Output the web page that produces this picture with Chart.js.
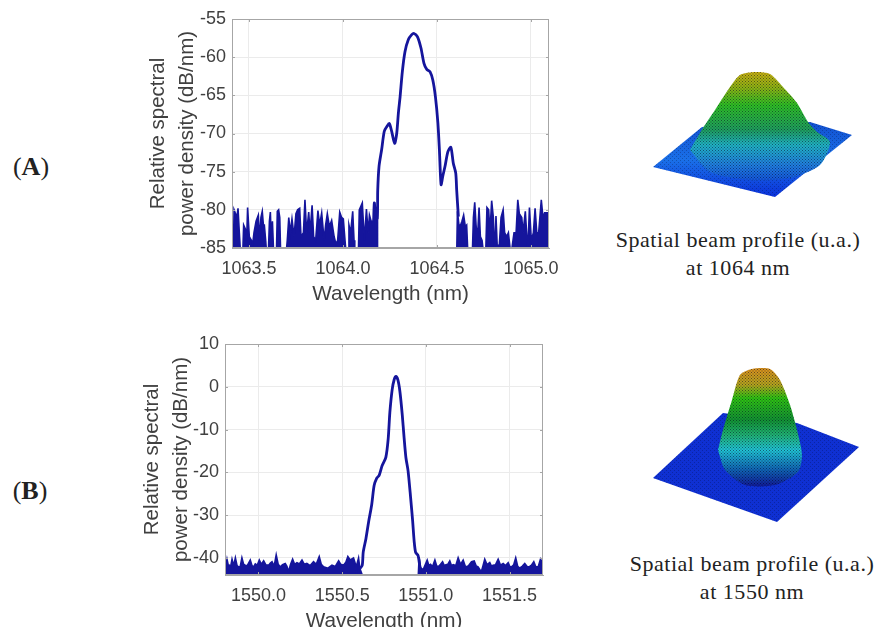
<!DOCTYPE html>
<html><head><meta charset="utf-8">
<script src="https://cdn.jsdelivr.net/npm/chart.js@4"></script>
<style>
html,body{margin:0;padding:0;background:#fff;width:876px;height:627px;overflow:hidden}
canvas{position:absolute;display:block}
.t{position:absolute;font-family:"Liberation Serif",serif;color:#222;white-space:nowrap;transform:translate(-50%,-50%)}
.cap{font-size:22px;letter-spacing:.53px}
.tag{font-size:26px}
</style></head><body>
<canvas id="cA" width="430" height="310" style="left:130px;top:0;width:430px;height:310px;filter:blur(.4px)"></canvas>
<canvas id="cB" width="440" height="310" style="left:120px;top:325px;width:440px;height:310px;filter:blur(.4px)"></canvas>
<canvas id="sA" width="230" height="165" style="left:640px;top:60px;width:230px;height:165px;filter:blur(.5px)"></canvas>
<canvas id="sB" width="230" height="165" style="left:640px;top:360px;width:230px;height:165px;filter:blur(.5px)"></canvas>
<div class="t tag" style="left:31px;top:167px">(<b>A</b>)</div>
<div class="t tag" style="left:30px;top:491px">(<b>B</b>)</div>
<div class="t cap" style="left:738px;top:240px">Spatial beam profile (u.a.)</div>
<div class="t cap" style="left:738px;top:268px">at 1064 nm</div>
<div class="t cap" style="left:752px;top:564px">Spatial beam profile (u.a.)</div>
<div class="t cap" style="left:752px;top:592px">at 1550 nm</div>
<script>
// Spectrum A (1064 nm): [wavelength nm, dB/nm]
const noiseLeftA = [[1063.417,-86],[1063.421,-80],[1063.430,-80.6],[1063.433,-81.5],[1063.442,-79.8],[1063.449,-83],[1063.456,-86],[1063.467,-86],[1063.472,-82],[1063.481,-82.5],[1063.488,-84],[1063.493,-79.7],[1063.502,-83.5],[1063.513,-84],[1063.520,-84.5],[1063.527,-83],[1063.538,-81.5],[1063.550,-80.7],[1063.557,-84],[1063.564,-81],[1063.571,-80.2],[1063.577,-82],[1063.582,-82],[1063.589,-84],[1063.595,-86],[1063.603,-86],[1063.609,-81.5],[1063.614,-80.3],[1063.619,-84],[1063.625,-81.5],[1063.632,-86],[1063.646,-86],[1063.651,-80.2],[1063.658,-80],[1063.664,-81],[1063.669,-86],[1063.697,-86],[1063.704,-84],[1063.712,-81],[1063.720,-83],[1063.729,-81.2],[1063.740,-83.5],[1063.750,-80.5],[1063.759,-80],[1063.770,-79.8],[1063.777,-83.5],[1063.790,-83],[1063.798,-78.7],[1063.807,-83],[1063.818,-80.3],[1063.825,-83],[1063.836,-79.4],[1063.844,-83.5],[1063.855,-84],[1063.867,-80.1],[1063.876,-82],[1063.887,-80.4],[1063.900,-84],[1063.908,-82],[1063.917,-80.5],[1063.928,-82.2],[1063.940,-81.4],[1063.953,-83.5],[1063.963,-84.5],[1063.972,-84],[1063.983,-80.3],[1063.993,-81],[1064.002,-81.2],[1064.011,-84],[1064.018,-86],[1064.027,-86],[1064.032,-82],[1064.041,-83],[1064.052,-80.2],[1064.059,-84],[1064.063,-86],[1064.082,-86],[1064.087,-80],[1064.103,-79.1],[1064.114,-84],[1064.125,-79.9],[1064.134,-83],[1064.141,-80.7],[1064.150,-81.5],[1064.157,-81.5],[1064.162,-82.6],[1064.167,-79.1],[1064.174,-80.9],[1064.183,-81.1],[1064.184,-86]];
const peakA = [[1064.162,-82.6],[1064.167,-79.1],[1064.174,-80.9],[1064.183,-81.1],[1064.185,-77.5],[1064.192,-74.3],[1064.206,-72.1],[1064.220,-69.7],[1064.236,-69.0],[1064.247,-68.7],[1064.259,-69.7],[1064.275,-71.3],[1064.286,-70],[1064.295,-67.3],[1064.304,-65.2],[1064.316,-61.9],[1064.330,-59.3],[1064.348,-57.7],[1064.366,-57.05],[1064.378,-56.9],[1064.396,-57.3],[1064.415,-58.8],[1064.431,-60.8],[1064.446,-61.6],[1064.463,-61.9],[1064.478,-63],[1064.492,-65.2],[1064.505,-68.6],[1064.513,-72.1],[1064.522,-76.7],[1064.531,-75.6],[1064.543,-74.3],[1064.558,-72.4],[1064.574,-71.8],[1064.587,-73.9],[1064.600,-75.2],[1064.605,-77.4],[1064.614,-80.9]];
const noiseRightA = [[1064.605,-86],[1064.609,-80.2],[1064.617,-82],[1064.626,-82],[1064.633,-81.5],[1064.642,-80.7],[1064.651,-82.2],[1064.658,-82],[1064.665,-86],[1064.688,-86],[1064.694,-81],[1064.701,-79],[1064.708,-82],[1064.715,-84],[1064.724,-79.7],[1064.731,-83.5],[1064.740,-84],[1064.749,-86],[1064.759,-86],[1064.766,-79.7],[1064.775,-80],[1064.782,-83],[1064.791,-78.8],[1064.800,-81],[1064.807,-86],[1064.814,-80.8],[1064.821,-85],[1064.832,-84.5],[1064.841,-81],[1064.852,-80],[1064.860,-83],[1064.871,-83.5],[1064.880,-83],[1064.889,-85],[1064.899,-85],[1064.910,-83],[1064.921,-83],[1064.930,-78.7],[1064.938,-80.5],[1064.951,-81],[1064.958,-83],[1064.970,-80.2],[1064.977,-83],[1064.983,-85.5],[1064.992,-79.7],[1065.002,-84],[1065.013,-83],[1065.022,-79.8],[1065.031,-83],[1065.041,-83],[1065.055,-78.7],[1065.064,-81],[1065.073,-80.4],[1065.087,-80.4],[1065.096,-82.5]];
// Spectrum B (1550 nm)
const noiseLeftB = [[1549.80,-43],[1549.812,-40.3],[1549.820,-41.8],[1549.826,-41.7],[1549.834,-42],[1549.842,-40.3],[1549.852,-41.8],[1549.862,-40],[1549.872,-41.8],[1549.881,-42.1],[1549.891,-42],[1549.901,-40],[1549.911,-41.5],[1549.921,-41.7],[1549.933,-41.8],[1549.951,-40.5],[1549.961,-41.8],[1549.971,-42.1],[1549.981,-41.4],[1549.993,-41.7],[1550.005,-40.5],[1550.017,-41.5],[1550.031,-40.7],[1550.045,-41.7],[1550.061,-41.7],[1550.071,-41.2],[1550.081,-40.9],[1550.094,-41.9],[1550.106,-39.3],[1550.118,-41.5],[1550.130,-42.1],[1550.144,-41.6],[1550.160,-41.3],[1550.170,-42],[1550.180,-43.2],[1550.192,-41.5],[1550.204,-40.3],[1550.216,-41.5],[1550.230,-41.1],[1550.244,-41.4],[1550.260,-40.5],[1550.274,-41.5],[1550.289,-41.3],[1550.309,-41.8],[1550.329,-40.9],[1550.345,-41.5],[1550.363,-39.7],[1550.375,-41.5],[1550.389,-42.1],[1550.415,-42.4],[1550.439,-41.7],[1550.459,-42],[1550.479,-40.7],[1550.492,-41.5],[1550.508,-41.7],[1550.522,-41],[1550.534,-39.7],[1550.548,-40.5],[1550.568,-40],[1550.580,-41.5],[1550.584,-43.6],[1550.588,-41.5],[1550.598,-40],[1550.606,-42.5],[1550.620,-44]];
const peakB = [[1550.606,-42.5],[1550.620,-41.7],[1550.626,-38.6],[1550.642,-35.5],[1550.658,-31.6],[1550.676,-27.7],[1550.691,-23.1],[1550.706,-21.4],[1550.721,-20.7],[1550.739,-18.4],[1550.761,-16.5],[1550.775,-12.2],[1550.785,-6],[1550.799,-0.6],[1550.811,1.7],[1550.821,2.4],[1550.833,1.6],[1550.845,-1.1],[1550.859,-6.5],[1550.870,-11.9],[1550.881,-16.6],[1550.894,-19.7],[1550.909,-25.9],[1550.921,-31.3],[1550.930,-36],[1550.939,-38.7],[1550.954,-39.5],[1550.968,-43.3]];
const noiseRightB = [[1550.955,-44],[1550.960,-39.8],[1550.968,-42],[1550.976,-42.8],[1550.988,-42.4],[1551.008,-40.5],[1551.018,-41.8],[1551.028,-41.5],[1551.040,-42],[1551.054,-40.5],[1551.064,-41.8],[1551.074,-42.1],[1551.088,-41.5],[1551.100,-40.9],[1551.110,-41.8],[1551.120,-41.6],[1551.131,-41.5],[1551.143,-40.7],[1551.153,-41.8],[1551.163,-41.6],[1551.179,-41.8],[1551.193,-40],[1551.207,-41.5],[1551.223,-40.5],[1551.235,-41.9],[1551.247,-42.1],[1551.259,-41.6],[1551.273,-40.9],[1551.289,-40.7],[1551.301,-41.9],[1551.312,-42.1],[1551.322,-42.7],[1551.332,-43.2],[1551.342,-41.8],[1551.352,-40.3],[1551.366,-41.6],[1551.382,-41.1],[1551.392,-41.9],[1551.402,-41.7],[1551.416,-41.6],[1551.432,-40.3],[1551.446,-41.7],[1551.462,-41.3],[1551.476,-41.8],[1551.492,-41.1],[1551.502,-42],[1551.512,-42.1],[1551.525,-41.6],[1551.537,-40],[1551.549,-42],[1551.561,-42.4],[1551.577,-41.9],[1551.591,-41.3],[1551.605,-42],[1551.617,-42.1],[1551.631,-41.7],[1551.645,-40.9],[1551.657,-42.1],[1551.671,-42.1],[1551.685,-40.3],[1551.697,-41.2]];
const ticksXA = [1063.5,1064,1064.5,1065];
const ticksYA = [-85,-80,-75,-70,-65,-60,-55];
const ticksXB = [1550,1550.5,1551,1551.5];
const ticksYB = [-40,-30,-20,-10,0,10];
const xTitle = 'Wavelength (nm)';
const yTitle = ['Relative spectral','power density (dB/nm)'];
// Beam-profile surfaces: outlines in the picture's own local frame
const baseA = [[13,107],[135,137],[212,75],[170,62],[62,67]];
const domeA = [[50,90],[63,68],[75,50],[88,30],[100,15],[115,12],[130,14],[143,27],[157,43],[168,62],[177,72],[190,82],[180,105],[150,118],[110,120],[70,112]];
const baseB = [[13,118],[83,53],[157,63],[219,87],[137,162]];
const domeB = [[78,90],[83,70],[92,40],[100,15],[112,9],[130,9],[140,20],[150,45],[157,70],[162,95],[158,112],[135,125],[105,125],[85,110]];
const stopsA = [[12,'#c8b012'],[28,'#8db414'],[45,'#2fc024'],[70,'#1fa05e'],[85,'#20b4c4'],[105,'#2080e0'],[120,'#1458dc']];
const stopsB = [[9,'#d8921e'],[25,'#b4a41e'],[38,'#30c412'],[60,'#129432'],[75,'#20b474'],[90,'#20c4d4'],[110,'#1064b4'],[125,'#10209a']];
const baseStopsA = [[62,'#1250d0'],[100,'#1a70e8'],[137,'#0a30d8']];
const baseStopsB = [[53,'#0f30d2'],[162,'#0f30d2']];

const BLUE = '#15159c', GREY = '#404040', FONT = '"Liberation Sans",Arial,sans-serif';
const toPts = a => a.map(p => ({x:p[0], y:p[1]}));
const frame = {id:'frame', afterDatasetsDraw(c){
  const a=c.chartArea, g=c.ctx; g.save(); g.strokeStyle='#a6a6a6'; g.lineWidth=1;
  g.strokeRect(a.left+.5,a.top+.5,a.right-a.left-1,a.bottom-a.top-1);
  g.beginPath();
  c.scales.x.ticks.forEach(t=>{const p=Math.round(c.scales.x.getPixelForValue(t.value))+.5;g.moveTo(p,a.bottom);g.lineTo(p,a.bottom-3);g.moveTo(p,a.top);g.lineTo(p,a.top+3);});
  c.scales.y.ticks.forEach(t=>{const p=Math.round(c.scales.y.getPixelForValue(t.value))+.5;g.moveTo(a.left,p);g.lineTo(a.left+3,p);g.moveTo(a.right,p);g.lineTo(a.right-3,p);});
  g.stroke(); g.restore();
}};
function spectrum(id, left, right, peak, cfg){
  const ds = (d,fill)=>({type:'line',data:toPts(d),borderColor:BLUE,backgroundColor:BLUE,borderWidth:fill?1.6:2.8,pointRadius:0,tension:fill?0:.25,fill:fill?'start':false});
  new Chart(document.getElementById(id),{type:'line',
    data:{datasets:[ds(left,true),ds(peak,false),ds(right,true)]},
    plugins:[frame],
    options:{responsive:false,animation:false,events:[],
      layout:{padding:{top:cfg.top,right:cfg.right,left:0,bottom:0}},
      plugins:{legend:{display:false},tooltip:{enabled:false}},
      scales:{
        x:{type:'linear',min:cfg.xr[0],max:cfg.xr[1],
          afterBuildTicks:s=>{s.ticks=cfg.tx.map(v=>({value:v}));},
          afterFit:s=>{s.height=cfg.xh;s.paddingLeft=0;s.paddingRight=0;},
          grid:{color:'#ebebeb',drawTicks:false},border:{color:'#a6a6a6'},
          ticks:{autoSkip:false,maxRotation:0,padding:10,color:GREY,font:{family:FONT,size:18},callback:v=>v.toFixed(1)},
          title:{display:true,text:xTitle,color:GREY,font:{family:FONT,size:20.7},padding:{top:0,bottom:cfg.tbot}}},
        y:{type:'linear',min:cfg.yr[0],max:cfg.yr[1],
          afterBuildTicks:s=>{s.ticks=cfg.ty.map(v=>({value:v}));},
          afterFit:s=>{s.width=cfg.yw;s.paddingTop=0;s.paddingBottom=0;},
          grid:{color:'#ebebeb',drawTicks:false},border:{color:'#a6a6a6'},
          ticks:{autoSkip:false,padding:6,color:GREY,font:{family:FONT,size:18},callback:v=>String(v)},
          title:{display:true,text:yTitle,color:GREY,font:{family:FONT,size:20.5,lineHeight:1.45},padding:{top:cfg.ypad,bottom:0}}}
      }}});
}
spectrum('cA',noiseLeftA,noiseRightA,peakA,{top:19,right:11,xr:[1063.41,1065.096],yr:[-85,-55],tx:ticksXA,ty:ticksYA,xh:62,yw:102,tbot:3,ypad:13});
spectrum('cB',noiseLeftB,noiseRightB,peakB,{top:19,right:17,xr:[1549.80,1551.70],yr:[-44,10],tx:ticksXB,ty:ticksYB,xh:60,yw:105,tbot:1,ypad:17});

function speckle(cell,dot,alpha){
  const c=document.createElement('canvas');c.width=c.height=cell;
  const g=c.getContext('2d');g.fillStyle='rgba(0,0,30,'+alpha+')';
  g.fillRect(0,0,dot,dot);g.fillRect(cell/2,cell/2,dot,dot);
  return g.createPattern(c,'repeat');
}
function surface(id,base,dome,stops,baseStops){
  const el=document.getElementById(id);
  const poly=(d,bg,t)=>({type:'scatter',showLine:true,data:toPts(d.concat([d[0]])),borderWidth:0,borderColor:'transparent',pointRadius:0,tension:t,fill:'shape',backgroundColor:bg});
  const grad=st=>{const a=st[0][0],b=st[st.length-1][0],gr=el.getContext('2d').createLinearGradient(0,a,0,b);
    st.forEach(s=>gr.addColorStop((s[0]-a)/(b-a),s[1]));return gr;};
  new Chart(el,{type:'scatter',
    data:{datasets:[
      Object.assign(poly(dome,speckle(3,1,.5),.25),{order:1}),
      Object.assign(poly(dome,grad(stops),.25),{order:2}),
      Object.assign(poly(base,speckle(4,1,.25),0),{order:3}),
      Object.assign(poly(base,grad(baseStops),0),{order:4})]},
    options:{responsive:false,animation:false,events:[],layout:{padding:0},
      plugins:{legend:{display:false},tooltip:{enabled:false}},
      scales:{x:{type:'linear',min:0,max:230,display:false},y:{type:'linear',min:0,max:165,reverse:true,display:false}}}});
}
surface('sA',baseA,domeA,stopsA,baseStopsA);
surface('sB',baseB,domeB,stopsB,baseStopsB);
</script>
</body></html>
